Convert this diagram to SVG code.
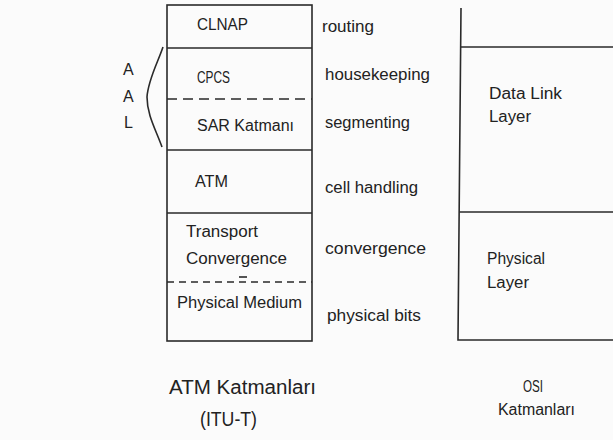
<svg xmlns="http://www.w3.org/2000/svg" width="613" height="440" viewBox="0 0 613 440">
<style>
  .ln{stroke:#2a2a2a;stroke-width:1.6;fill:none}
  .d1{stroke-dasharray:10 6}
  .d2{stroke-dasharray:7 5}
  text{font-family:"Liberation Sans",Arial,sans-serif;font-size:16px;fill:#222}
  .big{font-size:20px}
</style>
<rect width="613" height="440" fill="#fbfbfb"/>
<g id="atm-stack">
  <rect class="ln" x="167" y="5" width="145" height="336"/>
  <line class="ln" x1="167" y1="48" x2="312" y2="48"/>
  <line class="ln d1" x1="167" y1="99" x2="312" y2="99"/>
  <line class="ln" x1="167" y1="150" x2="312" y2="150"/>
  <line class="ln" x1="167" y1="213" x2="312" y2="213"/>
  <line class="ln d2" x1="167" y1="282" x2="312" y2="282"/>
  <line class="ln" x1="239" y1="277" x2="247" y2="277" stroke-width="1.2"/>
</g>
<g id="clnap"><text x="197" y="30" textLength="51" lengthAdjust="spacingAndGlyphs">CLNAP</text></g>
<g id="cpcs"><text x="197" y="83" textLength="33" lengthAdjust="spacingAndGlyphs">CPCS</text></g>
<g id="sar"><text x="197" y="131" textLength="97" lengthAdjust="spacingAndGlyphs">SAR Katmanı</text></g>
<g id="atm"><text x="195" y="187" textLength="33" lengthAdjust="spacingAndGlyphs">ATM</text></g>
<g id="tc">
  <text x="186" y="237" textLength="72" lengthAdjust="spacingAndGlyphs">Transport</text>
  <text x="186" y="264" textLength="101" lengthAdjust="spacingAndGlyphs">Convergence</text>
</g>
<g id="pm"><text x="177" y="308" textLength="125" lengthAdjust="spacingAndGlyphs">Physical Medium</text></g>
<g id="aal">
  <text x="123" y="75">A</text>
  <text x="123" y="102">A</text>
  <text x="124" y="128">L</text>
</g>
<g id="functions">
  <text x="322" y="32" textLength="52" lengthAdjust="spacingAndGlyphs">routing</text>
  <text x="325" y="80" textLength="105" lengthAdjust="spacingAndGlyphs">housekeeping</text>
  <text x="325" y="128" textLength="85" lengthAdjust="spacingAndGlyphs">segmenting</text>
  <text x="325" y="193" textLength="93" lengthAdjust="spacingAndGlyphs">cell handling</text>
  <text x="325" y="254" textLength="101" lengthAdjust="spacingAndGlyphs">convergence</text>
  <text x="327" y="321" textLength="94" lengthAdjust="spacingAndGlyphs">physical bits</text>
</g>
<g id="osi-stack">
  <polyline class="ln" points="461,8 458,340 613,340"/>
  <line class="ln" x1="461" y1="47" x2="613" y2="47"/>
  <line class="ln" x1="459.5" y1="212" x2="613" y2="212"/>
</g>
<g id="datalink">
  <text x="489" y="99" textLength="73" lengthAdjust="spacingAndGlyphs">Data Link</text>
  <text x="489" y="122" textLength="42" lengthAdjust="spacingAndGlyphs">Layer</text>
</g>
<g id="physical">
  <text x="487" y="264" textLength="58" lengthAdjust="spacingAndGlyphs">Physical</text>
  <text x="487" y="288" textLength="42" lengthAdjust="spacingAndGlyphs">Layer</text>
</g>
<g id="captions">
  <text class="big" x="169" y="394" textLength="147" lengthAdjust="spacingAndGlyphs">ATM Katmanları</text>
  <text class="big" x="200" y="426" textLength="57" lengthAdjust="spacingAndGlyphs">(ITU-T)</text>
  <text x="523" y="392" textLength="20" lengthAdjust="spacingAndGlyphs">OSI</text>
  <text x="498" y="415" textLength="77" lengthAdjust="spacingAndGlyphs">Katmanları</text>
</g>
<g id="connectors">
  <path class="ln" stroke-width="1.3" d="M163,47 C158,62 148,80 147,97 C147,115 156,130 162,147"/>
</g>
</svg>
